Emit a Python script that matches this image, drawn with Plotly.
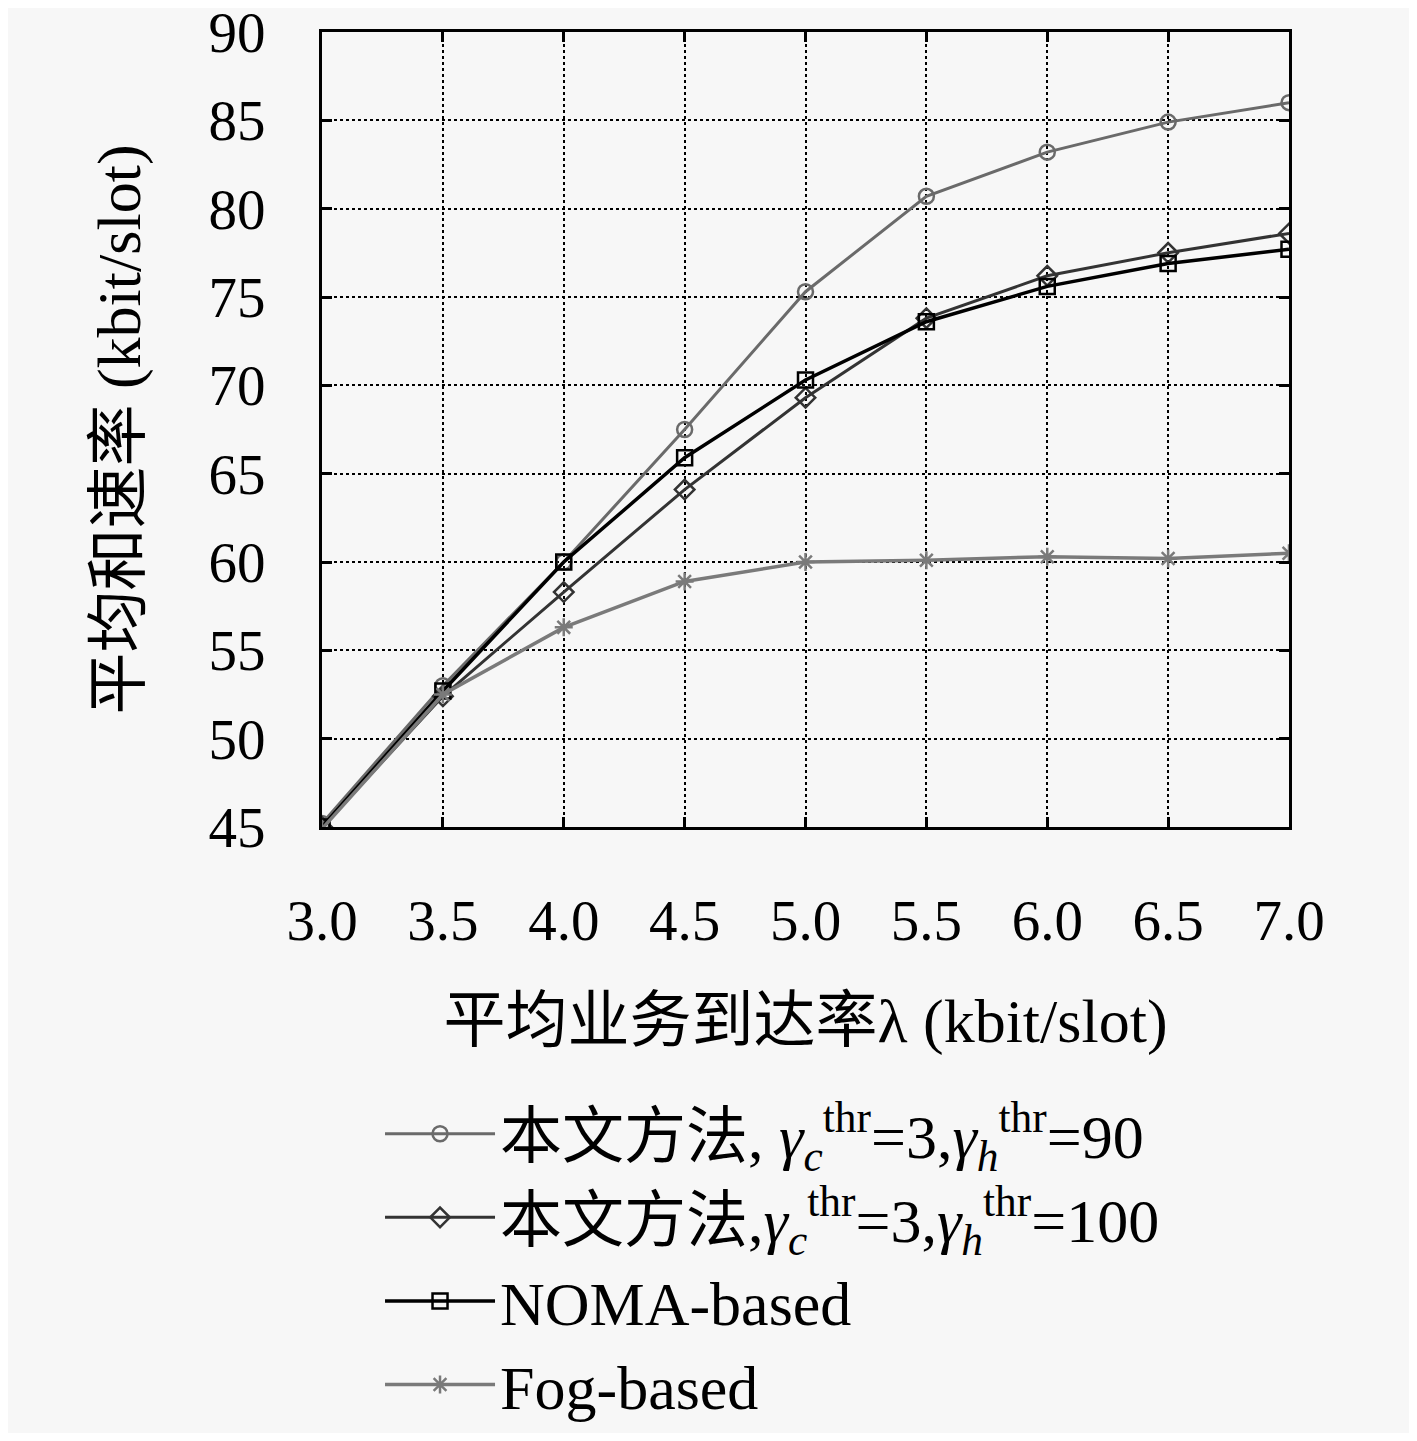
import plotly.graph_objects as go

# arrival rate lambda (kbit/slot)
arrival_rate = [3.0, 3.5, 4.0, 4.5, 5.0, 5.5, 6.0, 6.5, 7.0]

# average sum rate (kbit/slot)
proposed_90 = [45.2, 53.0, 60.0, 67.5, 75.3, 80.7, 83.2, 84.9, 86.0]
proposed_100 = [45.0, 52.4, 58.3, 64.1, 69.3, 73.8, 76.2, 77.5, 78.6]
noma_based = [45.0, 52.7, 60.0, 65.9, 70.3, 73.6, 75.6, 76.9, 77.7]
fog_based = [44.9, 52.5, 56.3, 58.9, 60.0, 60.1, 60.3, 60.2, 60.5]

names = [
    "本文方法, <i>γ</i><sub><i>c</i></sub><sup>thr</sup>=3,<i>γ</i><sub><i>h</i></sub><sup>thr</sup>=90",
    "本文方法,<i>γ</i><sub><i>c</i></sub><sup>thr</sup>=3,<i>γ</i><sub><i>h</i></sub><sup>thr</sup>=100",
    "NOMA-based",
    "Fog-based",
]

FONT = "Liberation Serif, Noto Sans CJK SC, serif"
BG = "#f7f7f7"

series = [
    (proposed_90, "#6a6a6a", "circle-open", 3),
    (proposed_100, "#333333", "diamond-open", 3),
    (noma_based, "#000000", "square-open", 3.5),
    (fog_based, "#7a7a7a", "asterisk-open", 3.5),
]

fig = go.Figure()
for i, (vals, color, symbol, lw) in enumerate(series):
    fig.add_trace(go.Scatter(
        x=arrival_rate, y=vals, name=names[i], mode="lines+markers",
        line=dict(color=color, width=lw),
        marker=dict(symbol=symbol, size=15, color=color, line=dict(color=color, width=2.5)),
        legendgroup=str(i),
    ))

axis_style = dict(
    showline=True, linecolor="black", linewidth=3, mirror="ticks",
    ticks="inside", ticklen=10, tickwidth=3, tickcolor="black",
    showgrid=True, gridcolor="black", gridwidth=1.5, griddash="dot",
    zeroline=False, ticklabeloverflow="allow", automargin=False,
    tickfont=dict(family=FONT, size=57, color="black"),
)

fig.update_xaxes(
    range=[3.0, 7.0], dtick=0.5, tickformat=".1f", ticklabelstandoff=42,
    title=dict(text="平均业务到达率λ (kbit/slot)", standoff=48,
               font=dict(family=FONT, size=62, color="black")),
    **axis_style,
)
fig.update_yaxes(
    range=[45, 90], dtick=5, ticklabelstandoff=42,
    title=dict(text="平均和速率 (kbit/slot)", standoff=48,
               font=dict(family=FONT, size=62, color="black")),
    **axis_style,
)

fig.update_layout(
    width=1401, height=1425,
    margin=dict(l=314, r=120, t=24, b=606, autoexpand=False),
    paper_bgcolor=BG, plot_bgcolor=BG,
    showlegend=True,
    legend=dict(
        x=0.06, y=-0.327, xanchor="left", yanchor="top",
        bgcolor="rgba(0,0,0,0)", traceorder="grouped", tracegroupgap=0,
        font=dict(family=FONT, size=62, color="black"),
        itemwidth=110,
    ),
)

fig.write_html("out.html")
